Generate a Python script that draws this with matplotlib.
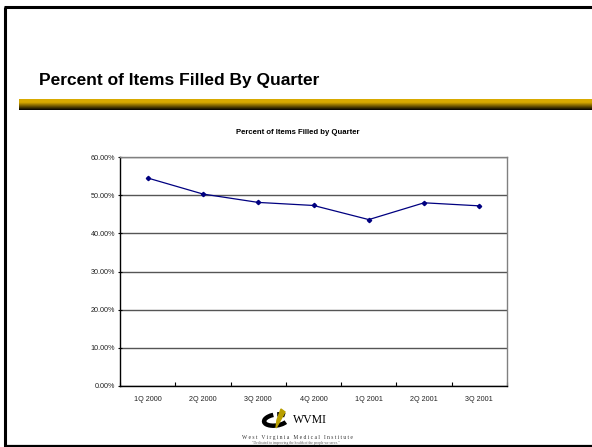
import numpy as np
import matplotlib.pyplot as plt
from matplotlib.patches import Polygon, Arc
from matplotlib.ticker import FixedLocator, PercentFormatter

quarters = ['1Q 2000', '2Q 2000', '3Q 2000', '4Q 2000', '1Q 2001', '2Q 2001', '3Q 2001']
pct_filled = [54.5, 50.3, 48.1, 47.3, 43.6, 48.0, 47.2]

plt.rcParams['font.family'] = ['Liberation Sans', 'DejaVu Sans']

W, H = 592, 447
fig = plt.figure(figsize=(W / 100, H / 100), dpi=100)

# slide background in pixel coordinates
bg = fig.add_axes([0, 0, 1, 1])
bg.set_xlim(0, W)
bg.set_ylim(H, 0)
bg.axis('off')

# slide border
bg.plot([5, 5], [7, 446], color='black', lw=2.2, solid_capstyle='butt')
bg.plot([4, W], [7, 7], color='black', lw=2.2, solid_capstyle='butt')
bg.plot([4, W], [446, 446], color='black', lw=1.6, solid_capstyle='butt')

bg.text(39, 81, 'Percent of Items Filled By Quarter', fontsize=12.5,
        fontweight='bold', ha='left', va='center')

# gold-to-black bar under the slide title
t = np.linspace(0, 1, 64)
gold = np.array([0.85, 0.67, 0.0])
fade = np.clip((t - 0.3) / 0.7, 0, 1)
rows = gold[None, :] * (1 - fade[:, None])
img = np.repeat(rows[:, None, :], 2, axis=1)
bg.imshow(img, extent=[19, W, 110, 99], aspect='auto', interpolation='bilinear')
bg.set_xlim(0, W)
bg.set_ylim(H, 0)

# logo: black ring cut by a gold slash
bg.add_patch(Arc((276, 420), 24, 11, angle=-8, theta1=20, theta2=250,
                 color='black', lw=3.2))
bg.add_patch(Arc((276, 420), 24, 11, angle=-8, theta1=290, theta2=340,
                 color='black', lw=3.2))
bg.add_patch(Polygon([[281, 409], [285, 412], [280, 421], [276, 428], [277, 420]],
                     closed=True, color='#b89f00'))
bg.text(293, 420, 'WVMI', fontsize=8.5, ha='left', va='center',
        family=['Liberation Serif', 'DejaVu Serif'])
bg.text(297, 437, 'W e s t   V i r g i n i a   M e d i c a l   I n s t i t u t e',
        fontsize=4.0, ha='center', va='center', color='#333333',
        family=['Liberation Serif', 'DejaVu Serif'])
bg.text(296, 443.3, '"Dedicated to improving the health of the people we serve."',
        fontsize=2.6, ha='center', va='center', color='#555555',
        family=['Liberation Serif', 'DejaVu Serif'])

# chart
ax = fig.add_axes([120 / W, (H - 386) / H, 387 / W, 229 / H])
x = np.arange(len(quarters))
ax.plot(x, pct_filled, color='#000080', lw=0.9, marker='D', ms=2.2,
        markerfacecolor='#000080', markeredgecolor='#000080')

ax.set_xlim(-0.5, len(quarters) - 0.5)
ax.set_ylim(0, 60)
ax.set_yticks(np.arange(0, 61, 10))
ax.yaxis.set_major_formatter(PercentFormatter(100, decimals=2))
ax.set_xticks(x)
ax.set_xticklabels(quarters)
ax.xaxis.set_minor_locator(FixedLocator(np.arange(-0.5, len(quarters), 1.0)))
ax.tick_params(axis='x', which='major', length=0, pad=7, labelsize=5.2, colors='#222222')
ax.tick_params(axis='x', which='minor', length=3, width=0.8, direction='in')
ax.tick_params(axis='y', length=3, width=0.8, direction='inout', pad=2,
               labelsize=5.2, colors='#222222')
ax.tick_params(axis='both', which='both', color='black')

ax.grid(axis='y', color='#555555', lw=1.0)
ax.set_axisbelow(True)
for side in ('top', 'right'):
    ax.spines[side].set_color('#808080')
    ax.spines[side].set_linewidth(1.0)
for side in ('left', 'bottom'):
    ax.spines[side].set_color('black')
    ax.spines[side].set_linewidth(1.0)

fig.text(298 / W, 1 - 132 / H, 'Percent of Items Filled by Quarter', fontsize=5.6,
         fontweight='bold', ha='center', va='center')

fig.savefig('out.png', dpi=100)
